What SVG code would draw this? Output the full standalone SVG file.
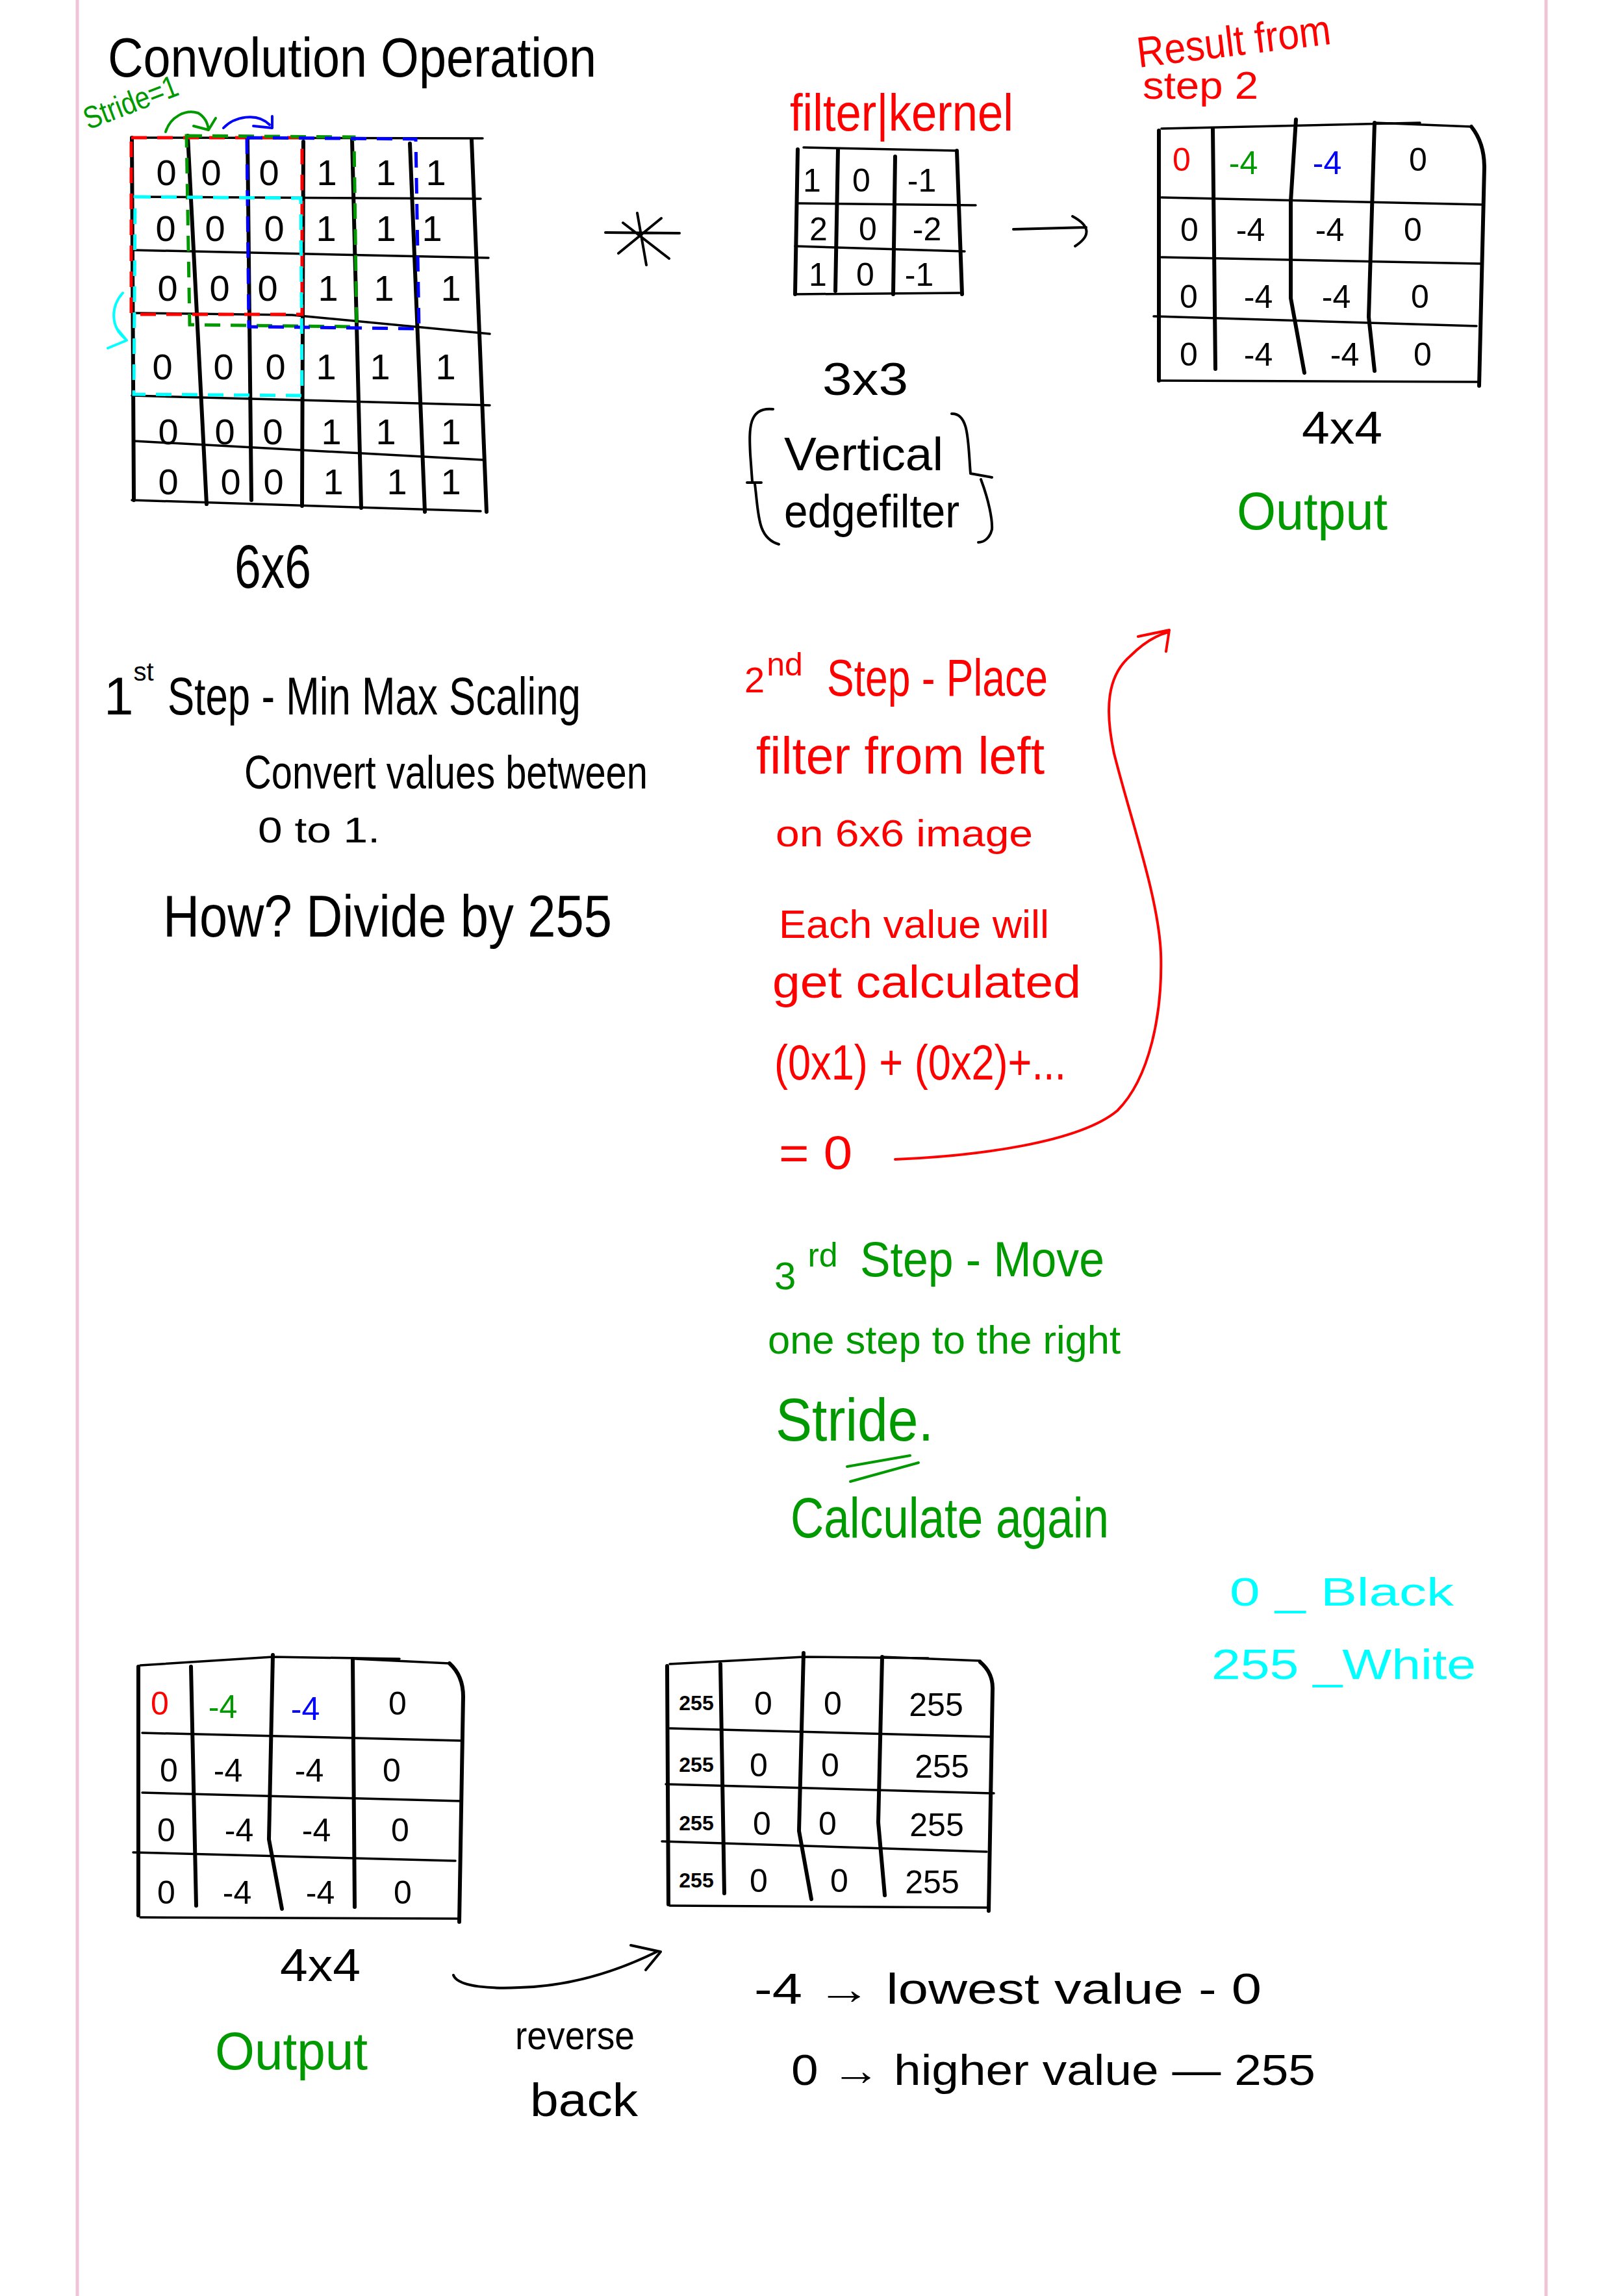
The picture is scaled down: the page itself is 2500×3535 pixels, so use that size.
<svg xmlns="http://www.w3.org/2000/svg" width="2500" height="3535" viewBox="0 0 2500 3535">
  <style>
    text { font-family: "Liberation Sans", Arial, sans-serif; }
    .k { fill: #000000; }
    .r { fill: #ff0000; }
    .g { fill: #009a00; }
    .b { fill: #0000ff; }
    .c { fill: #00ffff; }
    .v { fill: none; stroke: #000000; stroke-width: 6; stroke-linecap: round; stroke-linejoin: round; }
    .h { fill: none; stroke: #000000; stroke-width: 3.5; stroke-linecap: round; stroke-linejoin: round; }
    .pen { fill: none; stroke-width: 4; stroke-linecap: round; stroke-linejoin: round; }
    .dash { fill: none; stroke-width: 5; stroke-dasharray: 24 16; stroke-linecap: butt; }
    .margin { stroke: #f0c4d6; stroke-width: 5; }
    .cell { text-anchor: middle; font-size: 56px; }
    .num { text-anchor: middle; font-size: 50px; }
  </style>

  <rect width="2500" height="3535" fill="#ffffff"/>

  <!-- page margins -->
  <g id="page-margins">
    <line class="margin" x1="119" y1="0" x2="119" y2="3535"/>
    <line class="margin" x1="2380" y1="0" x2="2380" y2="3535"/>
  </g>

  <!-- heading -->
  <g id="title">
    <text class="k" x="166" y="118" font-size="86" textLength="752" lengthAdjust="spacingAndGlyphs">Convolution Operation</text>
  </g>

  <!-- 6x6 input image -->
  <g id="input-6x6">
    <text class="g" x="136" y="200" font-size="48" textLength="152" lengthAdjust="spacingAndGlyphs" transform="rotate(-21 136 200)">Stride=1</text>
    <!-- vertical lines -->
    <path class="v" d="M203,212 L206,770"/>
    <path class="v" d="M289,209 L318,776"/>
    <path class="v" d="M381,212 L387,770"/>
    <path class="v" d="M467,218 L465,779"/>
    <path class="v" d="M542,215 L556,782"/>
    <path class="v" d="M631,221 L654,788"/>
    <path class="v" d="M726,215 L749,788"/>
    <!-- horizontal lines -->
    <path class="h" d="M203,212 L743,213"/>
    <path class="h" d="M210,303 L740,306"/>
    <path class="h" d="M203,385 L752,397"/>
    <path class="h" d="M209,482 L450,485 L754,514"/>
    <path class="h" d="M203,609 L754,624"/>
    <path class="h" d="M206,679 L743,708"/>
    <path class="h" d="M203,770 L740,787"/>
    <!-- sliding window outlines -->
    <rect class="dash" x="202" y="212" width="263" height="272" stroke="#ff0000"/>
    <path class="dash" d="M287,209 L545,211 L549,503 L292,500 Z" stroke="#009a00"/>
    <path class="dash" d="M380,212 L640,214 L645,506 L383,503 Z" stroke="#0000ff"/>
    <path class="dash" d="M208,303 L463,305 L465,609 L206,607 Z" stroke="#00ffff"/>
    <!-- pixel values -->
    <g class="k">
      <text class="cell" x="256" y="285">0</text><text class="cell" x="325" y="285">0</text><text class="cell" x="414" y="285">0</text>
      <text class="cell" x="503" y="285">1</text><text class="cell" x="594" y="285">1</text><text class="cell" x="671" y="285">1</text>
      <text class="cell" x="255" y="371">0</text><text class="cell" x="331" y="371">0</text><text class="cell" x="422" y="371">0</text>
      <text class="cell" x="502" y="371">1</text><text class="cell" x="594" y="371">1</text><text class="cell" x="665" y="371">1</text>
      <text class="cell" x="258" y="463">0</text><text class="cell" x="338" y="463">0</text><text class="cell" x="412" y="463">0</text>
      <text class="cell" x="505" y="463">1</text><text class="cell" x="591" y="463">1</text><text class="cell" x="694" y="463">1</text>
      <text class="cell" x="250" y="584">0</text><text class="cell" x="344" y="584">0</text><text class="cell" x="424" y="584">0</text>
      <text class="cell" x="502" y="584">1</text><text class="cell" x="585" y="584">1</text><text class="cell" x="686" y="584">1</text>
      <text class="cell" x="259" y="684">0</text><text class="cell" x="346" y="684">0</text><text class="cell" x="420" y="684">0</text>
      <text class="cell" x="510" y="684">1</text><text class="cell" x="594" y="684">1</text><text class="cell" x="694" y="684">1</text>
      <text class="cell" x="259" y="761">0</text><text class="cell" x="355" y="761">0</text><text class="cell" x="421" y="761">0</text>
      <text class="cell" x="513" y="761">1</text><text class="cell" x="611" y="761">1</text><text class="cell" x="694" y="761">1</text>
    </g>
    <text class="k" x="361" y="905" font-size="95" textLength="118" lengthAdjust="spacingAndGlyphs">6x6</text>
  </g>

  <!-- convolution operator -->
  <g id="operator">
    <path class="pen" stroke="#000000" stroke-width="6" d="M932,358 L1046,359 M981,328 L995,408 M959,343 L1030,398 M952,390 L1018,336"/>
  </g>

  <!-- 3x3 filter -->
  <g id="filter-kernel">
    <text class="r" x="1216" y="201" font-size="80" textLength="344" lengthAdjust="spacingAndGlyphs">filter|kernel</text>
    <path class="v" d="M1228,230 L1224,453"/>
    <path class="v" d="M1290,230 L1286,448"/>
    <path class="v" d="M1378,241 L1375,453"/>
    <path class="v" d="M1473,232 L1481,453"/>
    <path class="h" d="M1237,227 L1473,232"/>
    <path class="h" d="M1228,313 L1502,316"/>
    <path class="h" d="M1224,379 L1485,387"/>
    <path class="h" d="M1224,453 L1477,451"/>
    <g class="k">
      <text class="num" x="1250" y="295">1</text><text class="num" x="1326" y="295">0</text><text class="num" x="1419" y="295">-1</text>
      <text class="num" x="1260" y="370">2</text><text class="num" x="1336" y="370">0</text><text class="num" x="1427" y="370">-2</text>
      <text class="num" x="1259" y="440">1</text><text class="num" x="1332" y="440">0</text><text class="num" x="1415" y="440">-1</text>
    </g>
    <text class="k" x="1266" y="608" font-size="70" textLength="132" lengthAdjust="spacingAndGlyphs">3x3</text>
    <path class="pen" stroke="#000000" stroke-width="5" d="M1190,630 C1152,626 1153,660 1155,700 L1158,741 M1150,743 L1172,743 M1162,745 C1168,790 1165,828 1199,838"/>
    <path class="pen" stroke="#000000" stroke-width="5" d="M1465,637 C1492,636 1490,680 1494,729 L1527,735 M1510,738 C1522,770 1528,800 1527,815 C1524,828 1515,835 1506,835"/>
    <text class="k" x="1207" y="724" font-size="72" textLength="245" lengthAdjust="spacingAndGlyphs">Vertical</text>
    <text class="k" x="1207" y="812" font-size="72" textLength="270" lengthAdjust="spacingAndGlyphs">edgefilter</text>
  </g>

  <!-- 4x4 feature map (top) -->
  <g id="result-4x4">
    <text class="r" x="1753" y="104" font-size="66" textLength="300" lengthAdjust="spacingAndGlyphs" transform="rotate(-7 1753 104)">Result from</text>
    <text class="r" x="1759" y="152" font-size="60" textLength="178" lengthAdjust="spacingAndGlyphs">step 2</text>
    <path class="v" d="M1784,201 L1784,586"/>
    <path class="v" d="M1867,198 L1871,568"/>
    <path class="v" d="M1995,184 L1987,310 L1987,459 L2008,574"/>
    <path class="v" d="M2116,189 L2107,488 L2116,571"/>
    <path class="v" d="M2265,195 Q2285,220 2285,258 L2277,594"/>
    <path class="h" d="M1788,198 L2186,189 M2116,189 L2265,195"/>
    <path class="h" d="M1788,304 L2281,315"/>
    <path class="h" d="M1788,396 L2281,406"/>
    <path class="h" d="M1776,487 L2273,502"/>
    <path class="h" d="M1784,586 L2277,588"/>
    <text class="num r" x="1819" y="263">0</text>
    <text class="num g" x="1914" y="268" font-size="56">-4</text>
    <text class="num b" x="2043" y="268" font-size="60">-4</text>
    <g class="k">
      <text class="num" x="2183" y="263">0</text>
      <text class="num" x="1831" y="371">0</text><text class="num" x="1925" y="371">-4</text><text class="num" x="2047" y="371">-4</text><text class="num" x="2175" y="371">0</text>
      <text class="num" x="1830" y="474">0</text><text class="num" x="1937" y="474">-4</text><text class="num" x="2057" y="474">-4</text><text class="num" x="2186" y="474">0</text>
      <text class="num" x="1830" y="563">0</text><text class="num" x="1937" y="563">-4</text><text class="num" x="2070" y="563">-4</text><text class="num" x="2190" y="563">0</text>
    </g>
    <text class="k" x="2004" y="683" font-size="70" textLength="124" lengthAdjust="spacingAndGlyphs">4x4</text>
    <text class="g" x="1904" y="815" font-size="82" textLength="232" lengthAdjust="spacingAndGlyphs">Output</text>
  </g>

  <!-- step 1 notes -->
  <g id="step-1">
    <text class="k" x="160" y="1100" font-size="82">1<tspan font-size="40" dy="-52">st</tspan></text>
    <text class="k" x="258" y="1100" font-size="82" textLength="636" lengthAdjust="spacingAndGlyphs">Step - Min Max Scaling</text>
    <text class="k" x="376" y="1214" font-size="72" textLength="621" lengthAdjust="spacingAndGlyphs">Convert values between</text>
    <text class="k" x="397" y="1297" font-size="56" textLength="188" lengthAdjust="spacingAndGlyphs">0 to 1.</text>
    <text class="k" x="251" y="1442" font-size="90" textLength="691" lengthAdjust="spacingAndGlyphs">How? Divide by 255</text>
  </g>

  <!-- step 2 notes -->
  <g id="step-2">
    <text class="r" x="1146" y="1066" font-size="56">2<tspan font-size="50" dx="3" dy="-26">nd</tspan></text>
    <text class="r" x="1273" y="1071" font-size="80" textLength="340" lengthAdjust="spacingAndGlyphs">Step - Place</text>
    <text class="r" x="1164" y="1191" font-size="80" textLength="444" lengthAdjust="spacingAndGlyphs">filter from left</text>
    <text class="r" x="1194" y="1303" font-size="58" textLength="396" lengthAdjust="spacingAndGlyphs">on 6x6 image</text>
    <text class="r" x="1199" y="1444" font-size="62" textLength="416" lengthAdjust="spacingAndGlyphs">Each value will</text>
    <text class="r" x="1189" y="1536" font-size="70" textLength="475" lengthAdjust="spacingAndGlyphs">get calculated</text>
    <text class="r" x="1192" y="1662" font-size="76" textLength="449" lengthAdjust="spacingAndGlyphs">(0x1) + (0x2)+...</text>
    <text class="r" x="1199" y="1800" font-size="72" textLength="113" lengthAdjust="spacingAndGlyphs">= 0</text>
  </g>

  <!-- step 3 notes -->
  <g id="step-3">
    <text class="g" x="1192" y="1985" font-size="60">3<tspan font-size="52" dx="18" dy="-35">rd</tspan></text>
    <text class="g" x="1324" y="1965" font-size="76" textLength="376" lengthAdjust="spacingAndGlyphs">Step - Move</text>
    <text class="g" x="1182" y="2084" font-size="62" textLength="543" lengthAdjust="spacingAndGlyphs">one step to the right</text>
    <text class="g" x="1194" y="2218" font-size="92" textLength="243" lengthAdjust="spacingAndGlyphs">Stride.</text>
    <path class="pen" stroke="#009a00" stroke-width="3" d="M1304,2258 L1401,2241 M1309,2281 L1414,2252"/>
    <text class="g" x="1217" y="2367" font-size="88" textLength="490" lengthAdjust="spacingAndGlyphs">Calculate again</text>
  </g>

  <!-- colour legend -->
  <g id="legend">
    <text class="c" x="1893" y="2472" font-size="62" textLength="345" lengthAdjust="spacingAndGlyphs">0 _ Black</text>
    <text class="c" x="1865" y="2585" font-size="64" textLength="407" lengthAdjust="spacingAndGlyphs">255 _White</text>
  </g>

  <!-- 4x4 feature map (bottom) -->
  <g id="output-4x4">
    <path class="v" d="M213,2566 L213,2949"/>
    <path class="v" d="M294,2566 L302,2934"/>
    <path class="v" d="M420,2548 L414,2832 L434,2939"/>
    <path class="v" d="M543,2554 L546,2936"/>
    <path class="v" d="M692,2561 Q713,2580 713,2612 L707,2959"/>
    <path class="h" d="M216,2564 L420,2551 L615,2554 M546,2554 L692,2561"/>
    <path class="h" d="M219,2668 L710,2680"/>
    <path class="h" d="M219,2760 L710,2773"/>
    <path class="h" d="M205,2852 L701,2865"/>
    <path class="h" d="M216,2952 L704,2954"/>
    <text class="num r" x="246" y="2640">0</text>
    <text class="num g" x="343" y="2645" font-size="56">-4</text>
    <text class="num b" x="470" y="2648" font-size="62">-4</text>
    <g class="k">
      <text class="num" x="612" y="2640">0</text>
      <text class="num" x="260" y="2743">0</text><text class="num" x="351" y="2743">-4</text><text class="num" x="476" y="2743">-4</text><text class="num" x="603" y="2743">0</text>
      <text class="num" x="256" y="2835">0</text><text class="num" x="368" y="2835">-4</text><text class="num" x="487" y="2835">-4</text><text class="num" x="616" y="2835">0</text>
      <text class="num" x="256" y="2931">0</text><text class="num" x="365" y="2931">-4</text><text class="num" x="493" y="2931">-4</text><text class="num" x="620" y="2931">0</text>
    </g>
    <text class="k" x="431" y="3050" font-size="70" textLength="124" lengthAdjust="spacingAndGlyphs">4x4</text>
    <text class="g" x="331" y="3186" font-size="82" textLength="235" lengthAdjust="spacingAndGlyphs">Output</text>
  </g>

  <!-- rescaled 0..255 image -->
  <g id="rescaled-4x4">
    <path class="v" d="M1027,2565 L1029,2932"/>
    <path class="v" d="M1109,2562 L1115,2915"/>
    <path class="v" d="M1237,2545 L1230,2819 L1249,2924"/>
    <path class="v" d="M1358,2551 L1352,2806 L1362,2918"/>
    <path class="v" d="M1509,2559 Q1528,2575 1528,2599 L1522,2942"/>
    <path class="h" d="M1031,2562 L1237,2551 L1429,2553 M1358,2551 L1509,2557"/>
    <path class="h" d="M1031,2661 L1524,2674"/>
    <path class="h" d="M1025,2747 L1530,2761"/>
    <path class="h" d="M1019,2835 L1519,2851"/>
    <path class="h" d="M1031,2934 L1520,2937"/>
    <g class="k">
      <text x="1072" y="2633" font-size="32" font-weight="bold" text-anchor="middle">255</text>
      <text x="1072" y="2728" font-size="32" font-weight="bold" text-anchor="middle">255</text>
      <text x="1072" y="2818" font-size="32" font-weight="bold" text-anchor="middle">255</text>
      <text x="1072" y="2906" font-size="32" font-weight="bold" text-anchor="middle">255</text>
      <text class="num" x="1175" y="2640">0</text><text class="num" x="1282" y="2640">0</text><text class="num" x="1441" y="2642" font-size="56">255</text>
      <text class="num" x="1168" y="2735">0</text><text class="num" x="1278" y="2735">0</text><text class="num" x="1450" y="2737" font-size="56">255</text>
      <text class="num" x="1173" y="2825">0</text><text class="num" x="1274" y="2825">0</text><text class="num" x="1442" y="2827" font-size="56">255</text>
      <text class="num" x="1168" y="2913">0</text><text class="num" x="1292" y="2913">0</text><text class="num" x="1435" y="2915" font-size="56">255</text>
    </g>
  </g>

  <!-- mapping notes -->
  <g id="mapping">
    <text class="k" x="793" y="3155" font-size="62" textLength="184" lengthAdjust="spacingAndGlyphs">reverse</text>
    <text class="k" x="816" y="3258" font-size="72" textLength="166" lengthAdjust="spacingAndGlyphs">back</text>
    <text class="k" x="1161" y="3085" font-size="66" textLength="781" lengthAdjust="spacingAndGlyphs">-4 → lowest value - 0</text>
    <text class="k" x="1218" y="3210" font-size="66" textLength="807" lengthAdjust="spacingAndGlyphs">0 → higher value — 255</text>
  </g>

  <!-- connectors -->
  <g id="connectors">
    <path class="pen" stroke="#000000" d="M1560,353 L1672,350 M1651,333 Q1692,355 1655,379"/>
    <path class="pen" stroke="#ff0000" stroke-width="5" d="M1378,1785 C1500,1780 1660,1760 1720,1710 C1770,1660 1790,1560 1787,1467 C1783,1380 1740,1260 1715,1160 C1700,1090 1705,1040 1740,1010 C1760,990 1780,978 1799,973 M1752,980 L1800,970 L1795,1003"/>
    <path class="pen" stroke="#000000" d="M698,3041 C705,3060 760,3062 800,3060 C880,3058 950,3035 1011,3005 M971,2995 L1017,3005 L994,3033"/>
    <path class="pen" stroke="#009a00" stroke-width="5" d="M255,203 C262,180 285,168 305,174 C315,180 320,190 321,200 M298,194 L321,200 L332,182"/>
    <path class="pen" stroke="#0000ff" stroke-width="5" d="M344,197 C360,180 395,172 415,192 M390,194 L419,197 L419,179"/>
    <path class="pen" stroke="#00ffff" stroke-width="5" d="M189,451 C172,470 168,500 192,521 M180,506 L195,524 L166,536"/>
  </g>
</svg>
